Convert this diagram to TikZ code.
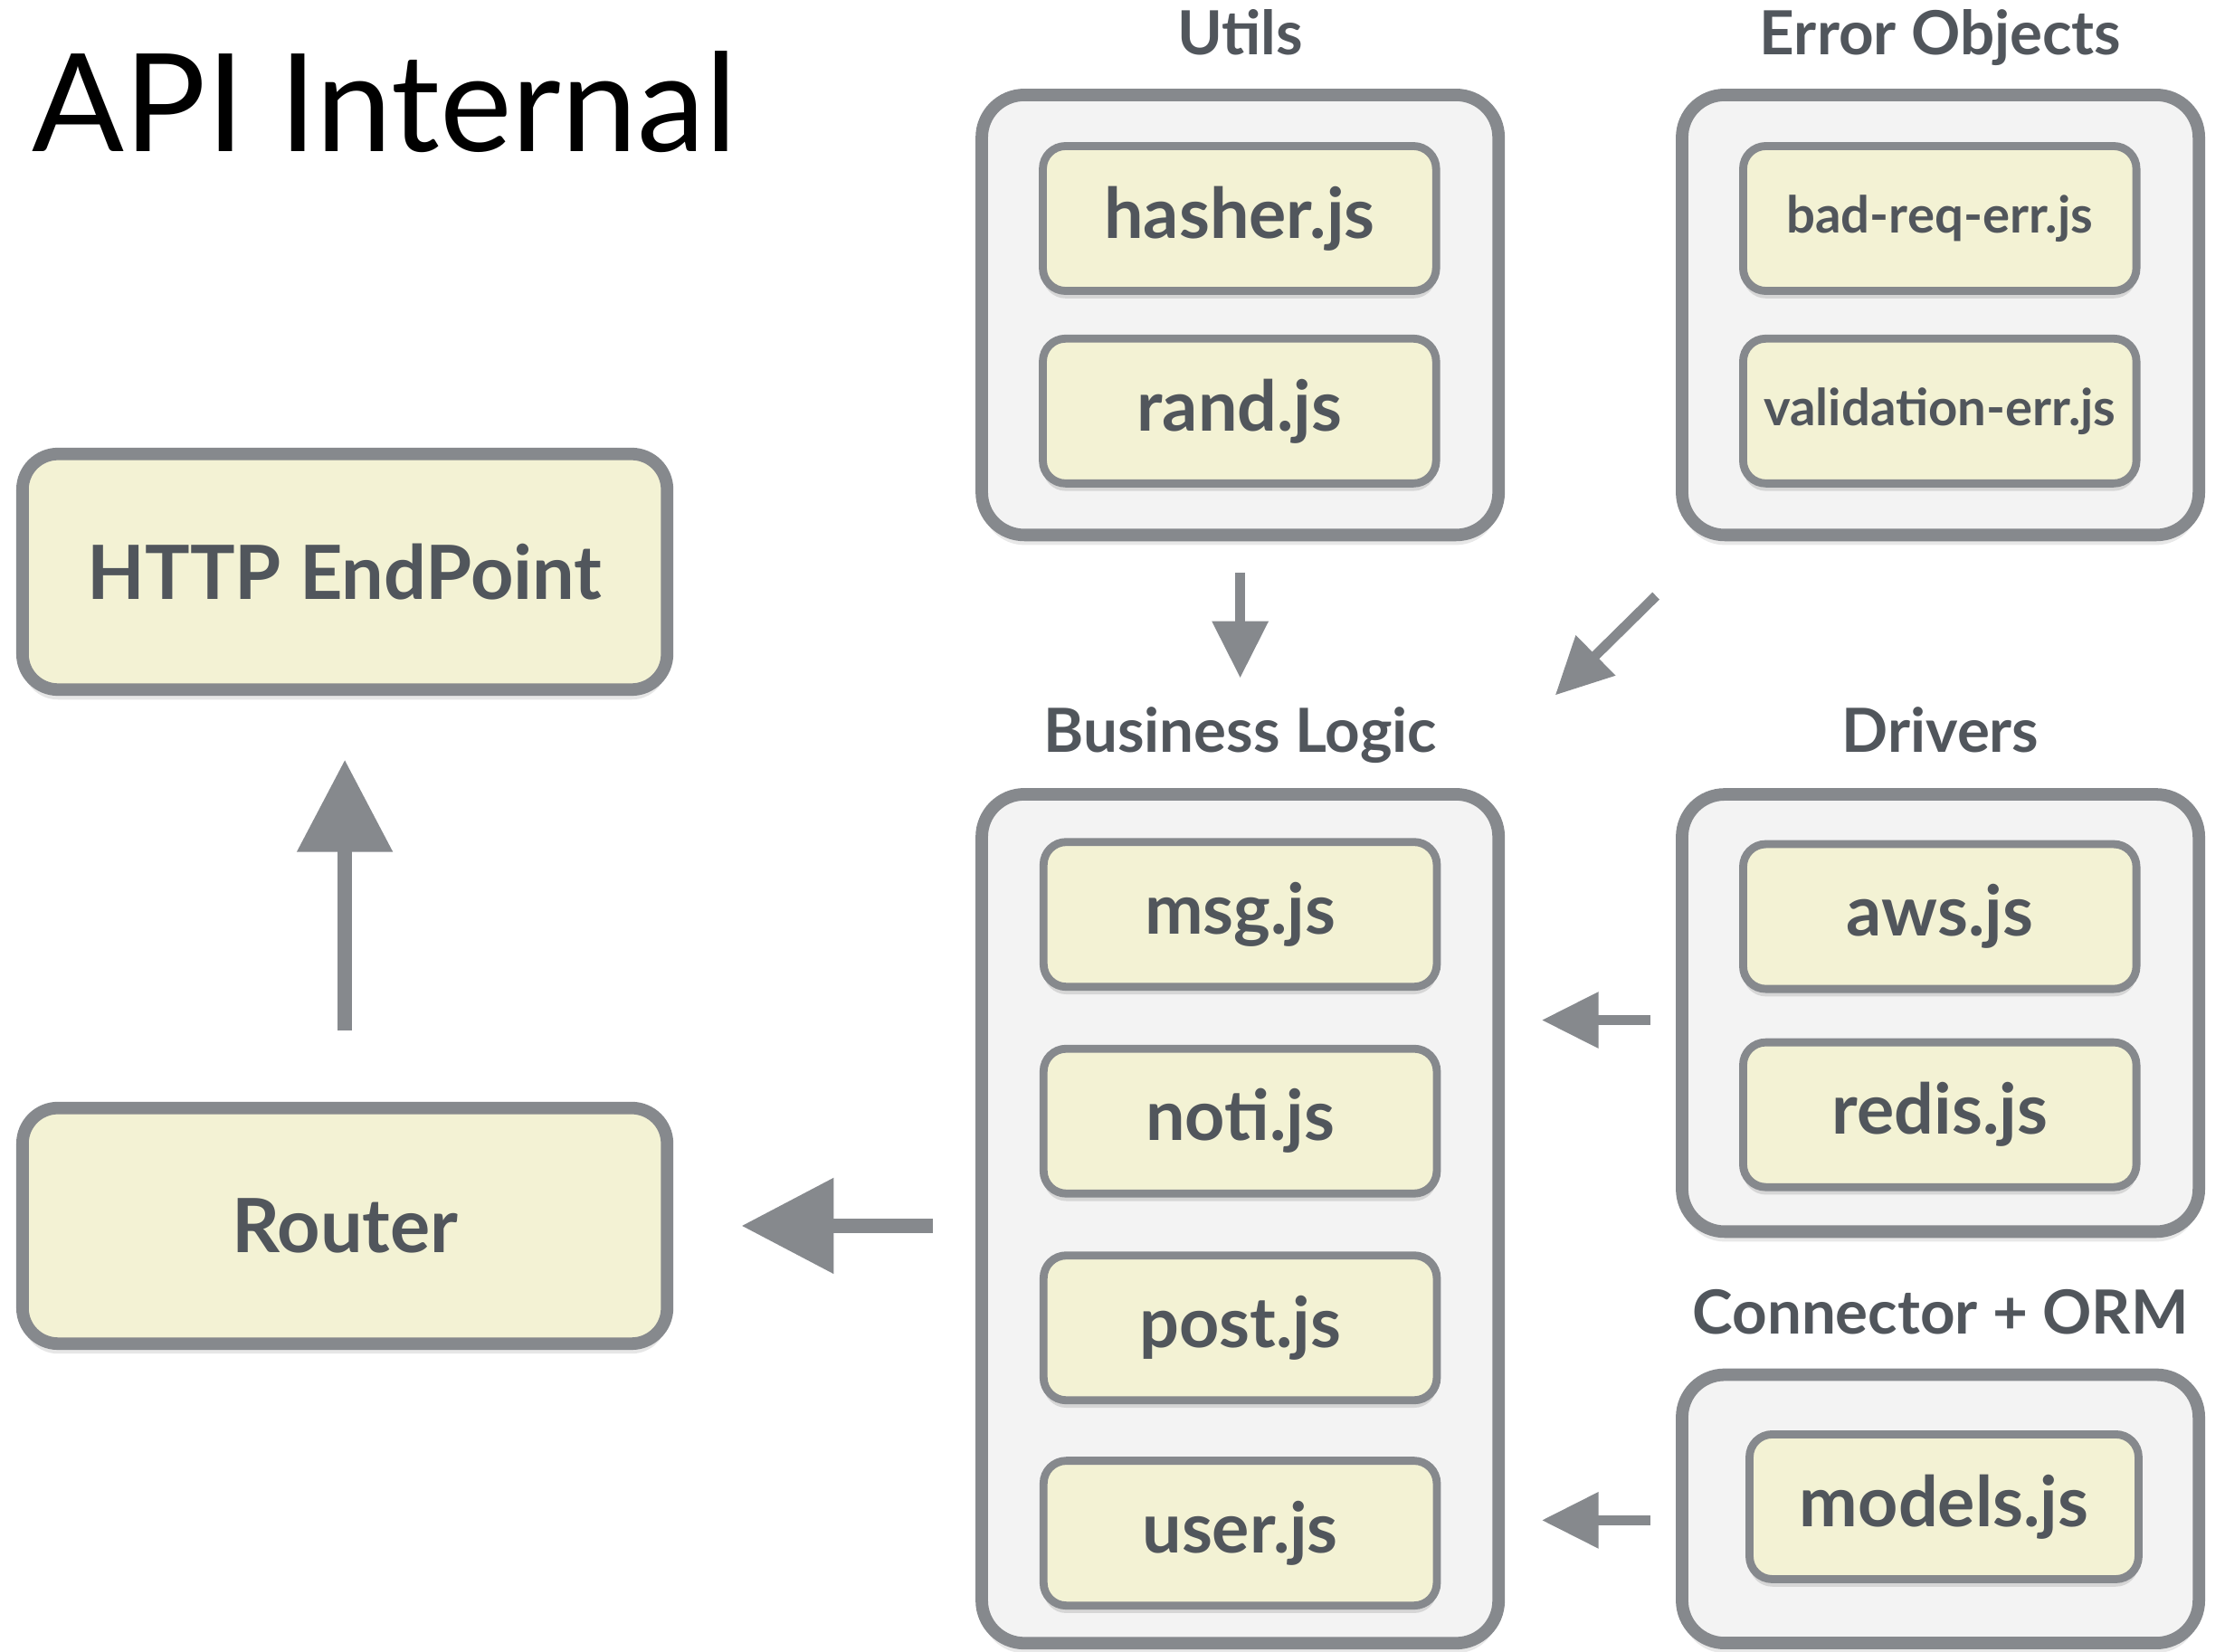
\documentclass[tikz,border=0pt]{standalone}
\usepackage{fontspec}
\setmainfont{Lato}
\usetikzlibrary{positioning, arrows.meta, shadows}
\definecolor{edge}{HTML}{86898D}
\definecolor{pane}{HTML}{F3F3F3}
\definecolor{cream}{HTML}{F3F2D4}
\definecolor{ink}{HTML}{51565C}

\begin{document}
\begin{tikzpicture} [
        x=0.01cm, y=-0.01cm,
        group/.style={rectangle, draw=edge, line width=2.5pt, fill=pane, rounded corners=0.3cm, minimum width=3.64cm, drop shadow={shadow xshift=0pt, shadow yshift=-2pt, opacity=0.18}},
        file/.style={rectangle, draw=edge, line width=1.6pt, fill=cream, rounded corners=0.16cm, minimum width=2.77cm, minimum height=1.02cm, text=ink, font=\bfseries\fontsize{14}{17}\selectfont, drop shadow={shadow xshift=0pt, shadow yshift=-1.5pt, opacity=0.25}},
        stage/.style={rectangle, draw=edge, line width=2.5pt, fill=cream, rounded corners=0.25cm, minimum width=4.54cm, minimum height=1.66cm, text=ink, font=\bfseries\fontsize{15}{18}\selectfont, drop shadow={shadow xshift=0pt, shadow yshift=-2pt, opacity=0.2}},
        heading/.style={inner sep=0pt, text=ink, font=\bfseries\fontsize{12.2}{15}\selectfont},
        bigarrow/.style={draw=edge, line width=2.9pt, -{Triangle[length=0.65cm, width=0.65cm]}},
        smallarrow/.style={draw=edge, line width=2pt, -{Triangle[length=0.4cm, width=0.38cm]}}
    ]
        \useasboundingbox (0,0) rectangle (1568,1164);

        % Title
        \node[anchor=base west, inner sep=0pt, font=\fontsize{27.3}{32}\selectfont] (title) at (22,107) {API Internal};

        % Left column
        \node[stage] (http) at (243,403) {HTTP EndPoint};
        \node[stage] (router) at (243,864) {Router};

        % Groups
        \node[group, minimum height=3.10cm] (utils) at (874,222) {};
        \node[group, minimum height=3.10cm] (errors) at (1367.5,222) {};
        \node[group, minimum height=5.98cm] (logic) at (874,859) {};
        \node[group, minimum height=3.08cm] (drivers) at (1367.5,714) {};
        \node[group, minimum height=1.89cm] (orm) at (1367.5,1063.5) {};

        \node[heading, above=0.24cm of utils, anchor=base] (utilsTitle) {Utils};
        \node[heading, above=0.24cm of errors, anchor=base] (errorsTitle) {Error Objects};
        \node[heading, above=0.25cm of logic, anchor=base] (logicTitle) {Business Logic};
        \node[heading, above=0.25cm of drivers, anchor=base] (driversTitle) {Drivers};
        \node[heading, above=0.24cm of orm, anchor=base] (ormTitle) {Connector + ORM};

        % Files
        \node[file] (hasher) at (873.5,154) {hasher.js};
        \node[file, below=0.28cm of hasher] (rand) {rand.js};

        \node[file, font=\bfseries\fontsize{10.2}{12}\selectfont] (badreq) at (1367,154) {bad-req-err.js};
        \node[file, font=\bfseries\fontsize{10.2}{12}\selectfont, below=0.28cm of badreq] (validation) {validation-err.js};

        \node[file] (msg) at (874,644.5) {msg.js};
        \node[file, below=0.38cm of msg] (noti) {noti.js};
        \node[file, below=0.38cm of noti] (post) {post.js};
        \node[file, below=0.37cm of post] (user) {user.js};

        \node[file] (aws) at (1367,646) {aws.js};
        \node[file, below=0.32cm of aws] (redis) {redis.js};

        \node[file, minimum width=2.74cm] (models) at (1370,1062) {models.js};

        % Paths
        \coordinate (errTail) at (1167,420);
        \coordinate (errTip) at (1096,490);

        \path [bigarrow, shorten <=0.5cm, shorten >=0.45cm] (router) -- (http);
        \path [bigarrow, shorten <=0.3cm, shorten >=0.48cm] (logic.west |- router) -- (router.east);
        \path [smallarrow, shorten <=0.22cm, shorten >=0.2cm] (utils.south) -- (logicTitle.north);
        \path [smallarrow] (errTail) -- (errTip);
        \path [smallarrow, shorten <=0.18cm, shorten >=0.26cm] ([yshift=-0.05cm]drivers.west) -- ([yshift=-0.05cm]drivers.west -| logic.east);
        \path [smallarrow, shorten <=0.18cm, shorten >=0.26cm] ([yshift=-0.08cm]orm.west) -- ([yshift=-0.08cm]orm.west -| logic.east);
    \end{tikzpicture}
\end{document}
